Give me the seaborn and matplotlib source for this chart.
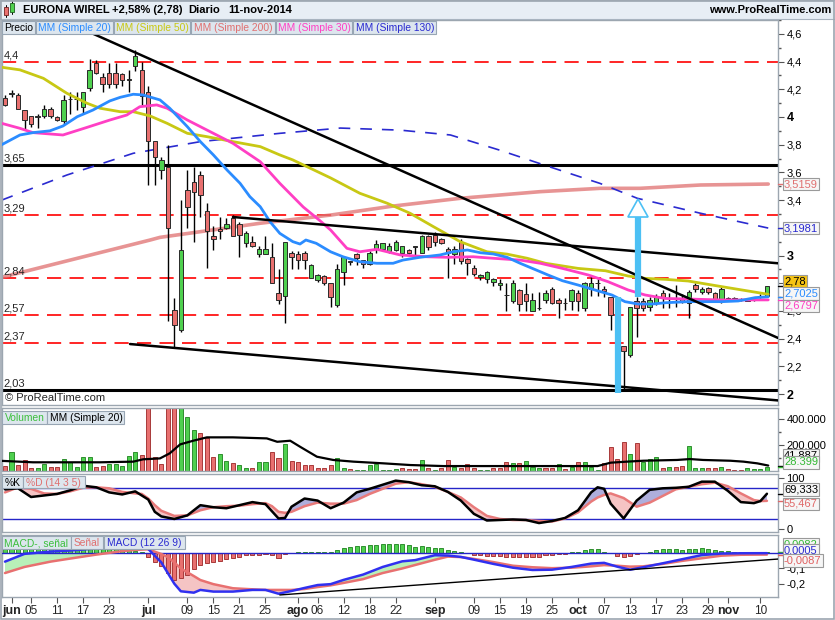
import numpy as np
import matplotlib
matplotlib.use("Agg")
import matplotlib.pyplot as plt
import seaborn as sns
from matplotlib.patches import Rectangle, Polygon
from matplotlib.ticker import FixedLocator, MultipleLocator

# ---------------- data ----------------
open_ = [4.14,4.168,4.16,4.05,4.01,4.00,4.01,4.06,4.00,3.97,4.13,4.13,4.07,4.21,4.39,4.29,4.32,4.32,4.31,4.27,4.37,4.34,
         4.18,3.83,3.62,3.64,2.61,2.46,3.47,3.53,3.58,3.32,3.14,3.19,3.20,3.27,3.23,3.09,3.10,3.01,3.01,2.99,2.73,2.71,
         3.02,3.01,3.02,2.84,2.82,2.85,2.80,2.64,2.88,2.955,3.01,2.965,2.94,3.05,3.05,3.03,3.04,3.02,3.04,3.065,3.02,3.14,
         3.15,3.12,3.05,3.01,3.10,2.975,2.91,2.845,2.83,2.81,2.785,2.715,2.67,2.75,2.72,2.60,2.62,2.68,2.76,2.68,2.655,2.67,
         2.73,2.62,2.76,2.80,2.76,2.70,2.57,2.35,2.28,2.67,2.67,2.63,2.655,2.73,2.69,2.69,2.69,2.655,2.79,2.74,2.765,2.73,
         2.67,2.69,2.69,2.68,2.675,2.68,2.70,2.71]
high = [4.16,4.195,4.17,4.05,4.01,4.02,4.09,4.07,4.01,4.16,4.18,4.18,4.18,4.42,4.41,4.32,4.39,4.39,4.32,4.34,4.48,4.40,
        4.22,3.83,3.71,3.80,2.69,3.40,3.62,3.64,3.61,3.38,3.21,3.28,3.27,3.29,3.24,3.18,3.14,3.07,3.14,3.09,2.90,3.10,
        3.03,3.03,3.03,2.94,2.87,2.86,2.80,2.94,3.00,2.96,3.02,2.97,3.03,3.11,3.09,3.09,3.11,3.07,3.05,3.07,3.15,3.15,
        3.17,3.13,3.06,3.07,3.12,2.98,2.93,2.87,2.89,2.84,2.83,2.80,2.82,2.76,2.80,2.73,2.74,2.75,2.77,2.69,2.69,2.76,
        2.75,2.81,2.85,2.84,2.78,2.70,2.60,2.35,2.63,2.70,2.69,2.70,2.72,2.75,2.73,2.79,2.72,2.75,2.80,2.77,2.77,2.74,
        2.77,2.70,2.70,2.69,2.69,2.69,2.72,2.78]
low = [4.08,4.145,4.06,3.91,3.93,3.92,3.99,3.99,3.97,3.95,4.02,4.05,4.02,4.19,4.31,4.18,4.21,4.21,4.22,4.18,4.33,4.09,
       3.51,3.51,3.55,2.53,2.33,2.45,3.20,3.10,3.28,2.91,3.04,3.12,3.19,3.14,2.99,3.06,3.06,2.99,3.01,2.80,2.65,2.51,
       2.90,2.90,2.90,2.84,2.81,2.79,2.63,2.63,2.79,2.93,2.93,2.91,2.93,3.02,3.04,3.02,3.03,2.99,3.01,3.00,3.02,3.04,
       3.07,3.08,2.84,2.94,2.94,2.86,2.85,2.82,2.80,2.78,2.75,2.60,2.66,2.60,2.60,2.60,2.61,2.66,2.65,2.55,2.61,2.61,
       2.60,2.60,2.71,2.71,2.70,2.46,2.40,2.04,2.27,2.41,2.60,2.60,2.64,2.62,2.62,2.63,2.66,2.55,2.74,2.72,2.72,2.67,
       2.66,2.67,2.67,2.67,2.67,2.67,2.69,2.70]
close = [4.09,4.17,4.06,3.98,3.95,4.01,4.06,4.01,3.98,4.12,4.135,4.135,4.18,4.34,4.32,4.24,4.24,4.24,4.27,4.27,4.44,4.15,
         3.83,3.71,3.69,3.20,2.50,3.04,3.35,3.46,3.44,3.18,3.12,3.18,3.23,3.14,3.15,3.16,3.07,3.05,3.05,2.80,2.68,3.10,
         2.99,2.97,2.97,2.93,2.86,2.80,2.70,2.90,2.99,2.955,2.98,2.94,3.02,3.08,3.09,3.07,3.10,3.07,3.02,3.065,3.14,3.06,
         3.10,3.09,3.02,3.05,2.96,2.945,2.865,2.86,2.88,2.83,2.80,2.715,2.80,2.65,2.67,2.68,2.62,2.73,2.655,2.655,2.66,2.75,
         2.67,2.80,2.80,2.80,2.745,2.57,2.45,2.31,2.63,2.62,2.62,2.68,2.70,2.69,2.69,2.695,2.67,2.74,2.76,2.76,2.735,2.68,
         2.76,2.675,2.675,2.68,2.675,2.68,2.71,2.78]

volume_k = [38,144,46,85,21,21,54,28,28,90,67,28,105,105,28,38,54,54,38,115,144,123,
            700,110,51,900,800,650,413,315,290,251,105,131,77,59,46,21,21,67,67,144,97,208,
            79,67,46,46,21,21,46,97,21,12,8,8,46,51,8,8,15,21,15,13,85,21,
            8,21,85,31,21,51,21,8,8,21,21,67,59,59,79,31,21,21,21,51,13,31,
            72,67,31,8,59,187,90,221,131,213,67,90,110,21,31,34,38,192,21,21,21,21,28,15,8,8,21,15,15,28.4]
volume_dir = ("rgrrrggrrgggggrrgggggr" "rrrrrgggrrrggrggrggrrg" "rrrrrrrggrgggggggrrrgr"
              "grrgrrrggrrrgrgggrrgrg" "rgggrrrrgrgggrgrrgggrrgrrrgggg")

volma_x = [-0.5,4.3,14.6,19.7,21.2,23.8,25.3,26.9,28.9,31,35,40.2,41.8,43.8,45.3,47.9,50.4,53.5,58.1,62.2,67.3,77.6,91,93,95.5,98,103.2,105.2,107.2,111.4,113.4,115.5,117.2]
volma_k = [78,67,67,72,90,97,136,205,233,259,259,251,225,233,187,110,85,72,59,46,38,38,38,64,72,79,85,92,85,79,72,59,42]

sma20_x = [-0.5,2.3,4.3,6.9,8.9,11.1,13.5,16.1,17.7,19.7,21.2,23.8,25.3,28,30,32,34.1,36.1,37.6,39.2,40.7,42.2,44.2,45.3,46.2,47.8,50,51.9,54.5,57.1,59.6,61.1,63.7,66.8,68.8,71,73,75,77.1,79.1,82.2,83.4,85.6,88,90.6,93.2,95.2,97.2,99.4,101.4,104.9,110.1,112.6,115.2,117.2]
sma20_y = [3.80,3.87,3.887,3.90,3.935,4.002,4.05,4.116,4.142,4.164,4.159,4.123,4.063,3.93,3.822,3.726,3.617,3.521,3.425,3.352,3.244,3.16,3.10,3.083,3.112,3.088,3.027,2.991,2.955,2.944,2.944,2.967,2.987,3.004,3.027,3.04,3.02,3.011,2.987,2.944,2.883,2.859,2.818,2.787,2.751,2.715,2.667,2.65,2.65,2.659,2.667,2.667,2.672,2.696,2.7025]
sma50_x = [-0.5,2.3,5.9,9.5,12.6,14.6,17.7,19.7,22.3,24.9,28,31,35,39.2,42.2,44.2,50,54.5,58.7,62.2,65.8,69.9,74,77.1,80.2,83,88,92.2,95.7,98.3,101.4,104.9,110.1,117.2]
sma50_y = [4.359,4.34,4.279,4.171,4.099,4.063,4.038,4.038,4.007,3.954,3.882,3.858,3.822,3.786,3.726,3.69,3.56,3.449,3.377,3.305,3.208,3.10,3.027,3.01,2.98,2.944,2.907,2.89,2.852,2.835,2.828,2.816,2.775,2.72]
sma30_x = [-0.5,2.3,4.3,8.9,12.6,16.1,18.7,20.7,23.3,24.9,28,31,35,39.2,42.2,45.8,48.4,50,52.5,54.5,57.1,60.7,64.8,67.9,71.9,75,79.1,82.2,85.6,89.6,92.6,95.7,98.3,101.4,104.9,110.1,117.2]
sma30_y = [3.954,3.918,3.887,3.87,3.925,3.978,4.014,4.074,4.087,4.063,3.978,3.906,3.81,3.677,3.521,3.35,3.25,3.184,3.052,3.027,3.045,3.004,2.991,2.987,2.991,2.98,2.967,2.944,2.907,2.859,2.811,2.751,2.715,2.69,2.686,2.679,2.6797]
sma200_x = [-0.5,22.3,23.8,39.2,50,59.6,69.9,82.2,91.4,97.5,106.8,117.2]
sma200_y = [2.843,3.112,3.131,3.233,3.292,3.357,3.413,3.461,3.485,3.485,3.509,3.5159]
sma130_x = [-0.5,9.5,19.7,30,42.2,51.5,60.7,68.4,76,83,91.4,97.1,106.8,117.2]
sma130_y = [3.40,3.581,3.738,3.822,3.882,3.92,3.905,3.87,3.76,3.65,3.52,3.413,3.305,3.1981]

stoch_x = [0,2,4,6,8,10,12,14,16,18,20,21,22,23,24,26,28,30,32,34,36,38,40,41,42,43,44,46,48,50,52,54,56,58,60,62,64,66,68,70,72,74,76,78,80,82,84,86,88,90,91,92,93,95,97,99,101,103,105,107,109,111,113,115,116,117]
stoch_k = [78,80,63,66,69,76,85,82,72,68,74,66,58,34,25,20,27,47,43,41,47,53,49,35,21,22,44,60,56,41,52,72,79,87,95,92,86,84,73,56,30,17,18,19,18,12,16,22,37,72,82,79,50,21,56,77,80,81,83,93,93,75,53,51,55,69.333]
stoch_d = [72,82,79,70,69,74,81,82,80,73,70,69,60,47,36,26,27,37,43,45,46,49,51,45,34,32,34,45,52,50,50,57,69,79,89,92,88,83,73,62,43,26,20,18,18,16,15,21,33,54,62,67,70,61,44,52,65,78,83,88,91,84,70,57,55,55.467]

macd_x = [0,3,7,10,14,18,20,22,24,25,26,27,29,30,32,35,38,40,42,44,46,48,50,52,55,58,61,63,66,68,70,72,75,78,81,84,87,90,92,94,96,98,101,104,107,110,113,117]
macd_line = [-0.055,-0.004,0.011,0.018,0.031,0.040,0.043,0.028,-0.06,-0.13,-0.20,-0.25,-0.259,-0.241,-0.252,-0.252,-0.241,-0.241,-0.266,-0.248,-0.228,-0.209,-0.203,-0.175,-0.14,-0.09,-0.053,-0.045,-0.013,-0.015,-0.024,-0.042,-0.070,-0.095,-0.110,-0.108,-0.090,-0.068,-0.063,-0.088,-0.108,-0.092,-0.066,-0.039,-0.012,-0.002,0.0,0.0005]
macd_signal = [-0.13,-0.09,-0.055,-0.035,-0.009,0.014,0.022,0.026,-0.005,-0.025,-0.06,-0.10,-0.15,-0.176,-0.203,-0.23,-0.237,-0.241,-0.241,-0.241,-0.235,-0.222,-0.211,-0.195,-0.17,-0.13,-0.10,-0.077,-0.043,-0.022,-0.025,-0.037,-0.058,-0.082,-0.092,-0.098,-0.095,-0.086,-0.078,-0.082,-0.088,-0.086,-0.070,-0.050,-0.033,-0.016,-0.010,-0.0087]
macd_hist = [0.060,0.070,0.072,0.072,0.070,0.066,0.062,0.058,0.055,0.050,0.048,0.045,0.042,0.040,0.038,0.035,0.031,0.028,0.025,0.022,0.018,0.010,
             -0.022,-0.055,-0.083,-0.130,-0.175,-0.164,-0.143,-0.105,-0.077,-0.066,-0.055,-0.048,-0.039,-0.033,-0.022,-0.011,-0.011,-0.011,-0.004,-0.011,-0.028,-0.004,
             0.004,0.006,0.008,0.009,0.010,0.011,0.011,0.022,0.033,0.044,0.048,0.050,0.052,0.055,0.059,0.061,0.061,0.059,0.052,0.044,0.050,0.044,
             0.033,0.033,0.022,0.018,0.011,0.004,-0.011,-0.011,-0.015,-0.015,-0.018,-0.022,-0.022,-0.026,-0.026,-0.026,-0.022,-0.013,-0.011,-0.007,-0.004,0.011,
             0.011,0.022,0.026,0.026,0.011,0.004,-0.015,-0.026,-0.018,-0.007,0.002,0.011,0.022,0.026,0.026,0.026,0.022,0.026,0.026,0.033,
             0.026,0.022,0.018,0.018,0.011,0.011,0.007,0.007,0.007,0.0082]

red_levels = [4.4, 3.29, 2.84, 2.57, 2.37]
black_levels = [3.65, 2.03]
trend_x = [[11.5, 118.7], [35.0, 118.7], [19.2, 118.7]]
trend_y = [[4.643, 2.405], [3.278, 2.944], [2.361, 1.954]]
macd_trend_x = [42.2, 118.7]
macd_trend_y = [-0.274, -0.038]
arrow_down = (94.1, 2.70, 2.005)
arrow_up = (97.2, 2.70, 3.278, 3.408, 1.55)

tick_idx = [1,4,8,12,16,22,28,32,36,40,45,48,52,56,60,66,72,76,80,84,88,92,96,100,104,108,111,116]
tick_lbl = ["jun","05","11","17","23","jul","09","15","21","25","ago","06","12","18","22",
            "sep","09","15","19","25","oct","07","13","17","23","29","nov","10"]

# ---------------- style ----------------
sns.set_theme(style="white")
plt.rcParams['font.family'] = ['Liberation Sans', 'DejaVu Sans']
plt.rcParams['axes.linewidth'] = 1.0

GREEN = '#4fd04f'
RED = '#e8706f'
C20 = '#2b8cff'
C50 = '#c8c814'
C200 = '#e07070'
C30 = '#ff3fc4'
C130 = '#2a2ad0'
LBLUE = '#4cc0f4'
FRAME = '#9ca6b0'
W, H = 835, 620

fig = plt.figure(figsize=(W/100, H/100), dpi=100)
fig.patch.set_facecolor('white')

def fbox(x0, y0, x1, y1):
    return [x0/W, 1 - y1/H, (x1-x0)/W, (y1-y0)/H]

ax_p = fig.add_axes(fbox(2, 20, 778, 405))
ax_v = fig.add_axes(fbox(2, 408, 778, 471), sharex=ax_p)
ax_s = fig.add_axes(fbox(2, 474, 778, 532), sharex=ax_p)
ax_m = fig.add_axes(fbox(2, 535, 778, 597), sharex=ax_p)

for ax in (ax_p, ax_v, ax_s, ax_m):
    ax.set_facecolor('white')
    for sp in ax.spines.values():
        sp.set_color(FRAME)
        sp.set_linewidth(1.0)
    ax.yaxis.tick_right()
    ax.tick_params(axis='y', direction='out', length=4, width=0.8, color='#555555',
                   labelsize=8, labelcolor='black', pad=2, left=False, right=True)
    ax.tick_params(axis='x', bottom=False, labelbottom=False, top=False)
    ax.grid(False)

ax_p.set_xlim(-0.46, 118.7)

# ---------------- price panel ----------------
idx = np.arange(len(close))
o = np.array(open_); c = np.array(close); hi = np.array(high); lo = np.array(low)
doji = np.abs(c - o) < 0.006
body_lo = np.minimum(o, c)
body_h = np.where(doji, 0.003, np.abs(c - o))
body_col = np.where(doji, 'black', np.where(c >= o, GREEN, RED))

for lv in red_levels:
    ax_p.axhline(lv, color='#ff0000', lw=1.2, dashes=(8.5, 5), zorder=1)
    ax_p.annotate(f"{lv:g}".replace('.', ','), xy=(-0.25, lv), xytext=(0, 1.5),
                  textcoords='offset pixels', fontsize=8, va='bottom', ha='left', zorder=6)
for lv in black_levels:
    ax_p.axhline(lv, color='black', lw=2.2, zorder=2)
    ax_p.annotate(f"{lv:g}".replace('.', ','), xy=(-0.25, lv), xytext=(0, 1.5),
                  textcoords='offset pixels', fontsize=8, va='bottom', ha='left', zorder=6)

sns.lineplot(x=sma200_x, y=sma200_y, ax=ax_p, color=C200, lw=2.6, alpha=0.75, sort=False, estimator=None, zorder=2)
l130 = sns.lineplot(x=sma130_x, y=sma130_y, ax=ax_p, color=C130, lw=1.2, sort=False, estimator=None, zorder=2).lines[-1]
l130.set_dashes([7, 6])

ax_p.vlines(idx, lo, hi, color='black', lw=1.0, zorder=3)
ax_p.bar(idx, body_h, bottom=body_lo, width=0.68, color=body_col, edgecolor='#2a2a2a', lw=0.7, zorder=4)

sns.lineplot(x=sma50_x, y=sma50_y, ax=ax_p, color=C50, lw=2, sort=False, estimator=None, zorder=5)
sns.lineplot(x=sma30_x, y=sma30_y, ax=ax_p, color=C30, lw=2, sort=False, estimator=None, zorder=5)
sns.lineplot(x=sma20_x, y=sma20_y, ax=ax_p, color=C20, lw=2, sort=False, estimator=None, zorder=5)

for tx, ty in zip(trend_x, trend_y):
    ax_p.plot(tx, ty, color='black', lw=1.8, zorder=5)

ax_p.plot([arrow_down[0]]*2, [arrow_down[1], arrow_down[2]], color=LBLUE, lw=4.5, solid_capstyle='butt', zorder=6)
ax_p.plot([arrow_up[0]]*2, [arrow_up[1], arrow_up[2]], color=LBLUE, lw=4.5, solid_capstyle='butt', zorder=6)
ax_p.add_patch(Polygon([(arrow_up[0]-arrow_up[4], arrow_up[2]), (arrow_up[0]+arrow_up[4], arrow_up[2]),
                        (arrow_up[0], arrow_up[3])], closed=True, fc='white', ec=LBLUE, lw=1.2, zorder=6))

ax_p.set_ylim(1.921, 4.700)
ax_p.yaxis.set_major_locator(FixedLocator(np.round(np.arange(2.0, 4.61, 0.2), 1)))
ax_p.yaxis.set_minor_locator(MultipleLocator(0.1))
ax_p.tick_params(axis='y', which='minor', direction='out', length=2.5, color='#555555', right=True, left=False)
ax_p.set_yticklabels([f"{v:g}".replace('.', ',') for v in np.round(np.arange(2.0, 4.61, 0.2), 1)])
for t in ax_p.get_yticklabels():
    if t.get_text() in ('2', '3', '4'):
        t.set_fontweight('bold'); t.set_fontsize(9)
ax_p.set_ylabel(''); ax_p.set_xlabel('')
ax_p.text(0.004, 0.005, "© ProRealTime.com", transform=ax_p.transAxes, fontsize=8, va='bottom', ha='left')

def rlabel(ax, val, text, color, dy=0, fc='#f6f6f6', ec='#9a9a9a', weight='normal'):
    ax.annotate(text, xy=(1, val), xycoords=('axes fraction', 'data'), xytext=(6, dy),
                textcoords='offset pixels', fontsize=8, color=color, va='center', ha='left',
                fontweight=weight, annotation_clip=False, zorder=20,
                bbox=dict(boxstyle='square,pad=0.12', fc=fc, ec=ec, lw=0.8))
    ax.plot([1.0, 1.007], [val, val], transform=ax.get_yaxis_transform(), color=color,
            lw=1, clip_on=False, zorder=19)

rlabel(ax_p, 3.5159, "3,5159", C200)
rlabel(ax_p, 3.1981, "3,1981", C130)
rlabel(ax_p, 2.78, "2,78", 'black', dy=4.5, fc='#f6c414')
rlabel(ax_p, 2.7025, "2,7025", C20, dy=3)
rlabel(ax_p, 2.6797, "2,6797", C30, dy=-6)

# ---------------- volume panel ----------------
vol = np.array(volume_k) * 1000
vcol = [GREEN if d == 'g' else RED for d in volume_dir]
vedge = ['#2f8f2f' if d == 'g' else '#a83a3a' for d in volume_dir]
ax_v.bar(idx, vol, width=0.62, color=vcol, edgecolor=vedge, lw=0.7, zorder=2)
sns.lineplot(x=volma_x, y=np.array(volma_k) * 1000, ax=ax_v, color='black', lw=1.6, sort=False, estimator=None, zorder=3)
ax_v.set_ylim(0, 485000)
ax_v.yaxis.set_major_locator(FixedLocator([200000, 400000]))
ax_v.set_yticklabels(["200.000", "400.000"])
ax_v.yaxis.set_minor_locator(FixedLocator([100000, 300000]))
ax_v.tick_params(axis='y', which='minor', direction='out', length=2.5, color='#555555', right=True, left=False)
ax_v.set_ylabel(''); ax_v.set_xlabel('')
rlabel(ax_v, 42000, "41.887", 'black', dy=10)
rlabel(ax_v, 28399, "28.399", '#33b833', dy=5)

# ---------------- stochastic panel ----------------
sk = np.array(stoch_k); sd = np.array(stoch_d)
ax_s.fill_between(stoch_x, sk, sd, where=sk >= sd, interpolate=True, color='#aeaedc', lw=0, zorder=1)
ax_s.fill_between(stoch_x, sk, sd, where=sk < sd, interpolate=True, color='#f5c4c4', lw=0, zorder=1)
ax_s.axhline(80, color='#2525c8', lw=1, zorder=2)
ax_s.axhline(20, color='#2525c8', lw=1, zorder=2)
sns.lineplot(x=stoch_x, y=stoch_d, ax=ax_s, color='#e87a7a', lw=1.8, sort=False, estimator=None, zorder=3)
sns.lineplot(x=stoch_x, y=stoch_k, ax=ax_s, color='black', lw=1.8, sort=False, estimator=None, zorder=4)
ax_s.set_ylim(-5.5, 108)
ax_s.yaxis.set_major_locator(FixedLocator([0, 100]))
ax_s.set_yticklabels(["0", "100"])
ax_s.set_ylabel(''); ax_s.set_xlabel('')
rlabel(ax_s, 69.333, "69,333", 'black', dy=4)
rlabel(ax_s, 55.467, "55,467", '#e06868', dy=-3)

# ---------------- MACD panel ----------------
ml = np.array(macd_line); ms = np.array(macd_signal)
ax_m.fill_between(macd_x, ml, ms, where=ml >= ms, interpolate=True, color='#b8f0b8', lw=0, zorder=1)
ax_m.fill_between(macd_x, ml, ms, where=ml < ms, interpolate=True, color='#f5c4c4', lw=0, zorder=1)
hcol = [GREEN if v >= 0 else RED for v in macd_hist]
hedge = ['#2f8f2f' if v >= 0 else '#a83a3a' for v in macd_hist]
ax_m.bar(idx, macd_hist, width=0.62, color=hcol, edgecolor=hedge, lw=0.7, zorder=2)
ax_m.axhline(0, color='#2525c8', lw=1, zorder=3)
sns.lineplot(x=macd_x, y=macd_signal, ax=ax_m, color='#e87070', lw=1.8, sort=False, estimator=None, zorder=4)
sns.lineplot(x=macd_x, y=macd_line, ax=ax_m, color='#3030f0', lw=1.8, sort=False, estimator=None, zorder=5)
ax_m.plot(macd_trend_x, macd_trend_y, color='black', lw=1.0, zorder=5)
ax_m.set_ylim(-0.2875, 0.120)
ax_m.yaxis.set_major_locator(FixedLocator([-0.2, -0.1, 0.0]))
ax_m.set_yticklabels(["-0,2", "-0,1", "0"])
ax_m.set_ylabel(''); ax_m.set_xlabel('')
rlabel(ax_m, 0.0082, "0,0082", '#33b833', dy=8)
rlabel(ax_m, 0.0005, "0,0005", C130, dy=2.5)
rlabel(ax_m, -0.0087, "-0,0087", '#e06060', dy=-6)

ax_m.set_xticks(tick_idx)
ax_m.set_xticklabels(tick_lbl)
ax_m.tick_params(axis='x', bottom=True, labelbottom=True, direction='out', length=4,
                 width=0.8, color='#555555', labelsize=8.5, pad=1.5)
for t in ax_m.get_xticklabels():
    if t.get_text() in ("jun", "jul", "ago", "sep", "oct", "nov"):
        t.set_fontweight('bold'); t.set_fontsize(9)

# ---------------- legends / header ----------------
def fig_box(x0, y0, x1, y1, fc, ec, z=30, lw=0.8):
    r = Rectangle((x0/W, 1 - y1/H), (x1-x0)/W, (y1-y0)/H, transform=fig.transFigure,
                  fc=fc, ec=ec, lw=lw, zorder=z)
    fig.add_artist(r)

def fig_txt(x, y, s, color='black', size=8, weight='normal', ha='left'):
    fig.text(x/W, 1 - y/H, s, color=color, fontsize=size, fontweight=weight,
             va='center', ha=ha, zorder=31)

LEG_FC = '#dde6ee'
LEG_EC = '#98a6b4'
def legend_row(y0, y1, items):
    for x0, x1, s, col in items:
        fig_box(x0, y0, x1, y1, LEG_FC, LEG_EC)
        fig_txt(x0 + 2.5, (y0 + y1) / 2 + 0.5, s, col, size=7.4)

legend_row(21, 34, [(2, 35, "Precio", 'black'), (36, 113, "MM (Simple 20)", C20),
                    (114, 190, "MM (Simple 50)", C50), (191, 275, "MM (Simple 200)", C200),
                    (276, 352, "MM (Simple 30)", C30), (353, 436, "MM (Simple 130)", C130)])
legend_row(411, 424, [(2, 47, "Volumen", '#3cbf3c'), (47, 124, "MM (Simple 20)", 'black')])
legend_row(476, 488, [(2, 23, "%K", 'black'), (23, 85, "%D (14 3 5)", '#e07070')])
legend_row(536, 549, [(2, 71, "MACD-, señal", '#3cbf3c'), (71, 103, "Señal", '#e07070'),
                      (104, 185, "MACD (12 26 9)", C130)])

# header bar
fig_box(0, 0, W, 19, '#e7eef5', '#a8b4c0', z=28)
fig_box(4, 7, 8, 15, RED, '#702020', z=31, lw=0.6)
fig_box(10, 3, 14, 12, GREEN, '#206020', z=31, lw=0.6)
fig.add_artist(plt.Line2D([6/W, 6/W], [1-5/H, 1-17/H], color='black', lw=0.7, zorder=30))
fig.add_artist(plt.Line2D([12/W, 12/W], [1-1/H, 1-14/H], color='black', lw=0.7, zorder=30))
fig_txt(23, 10, "EURONA WIREL", size=8, weight='bold')
fig_txt(112, 10, "+2,58% (2,78)", size=8, weight='bold')
fig_txt(188, 10, "Diario", size=8, weight='bold')
fig_txt(228, 10, "11-nov-2014", size=8, weight='bold')
fig_txt(831, 10, "www.ProRealTime.com", size=8, weight='bold', ha='right')

# outer frame
fig_box(0.5, 0.5, W - 1, H - 1, 'none', FRAME, z=40, lw=1.2)

fig.savefig("out.png", dpi=100, facecolor='white')
